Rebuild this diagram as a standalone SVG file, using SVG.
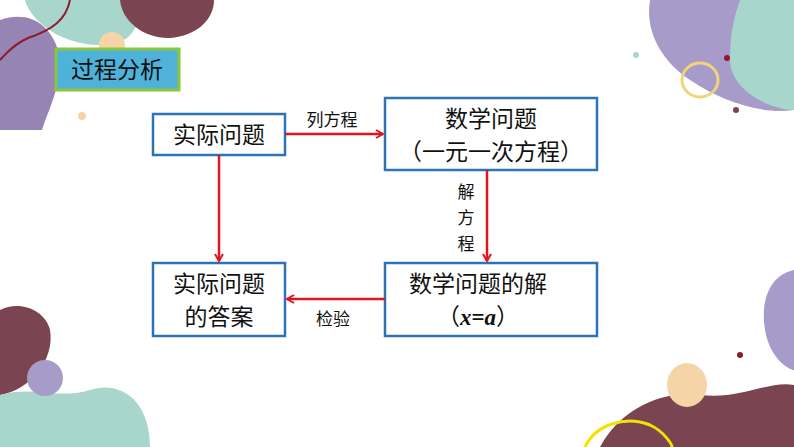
<svg xmlns="http://www.w3.org/2000/svg" width="794" height="447" viewBox="0 0 794 447">
<style>
.box{fill:#fff;stroke:#2e74b5;stroke-width:2.5}
.t{font-family:"Noto Sans CJK SC","Liberation Sans",sans-serif;font-size:23px;fill:#111}
.s{font-family:"Noto Sans CJK SC","Liberation Sans",sans-serif;font-size:17px;fill:#111}
.c{stroke:#e0161e;stroke-width:2.5;fill:none;marker-end:url(#ah)}
</style>
<defs><marker id="ah" markerWidth="10" markerHeight="10" refX="8" refY="5" orient="auto" markerUnits="userSpaceOnUse"><path d="M1,1 L8,5 L1,9" fill="none" stroke="#e0161e" stroke-width="2"/></marker></defs>
<rect width="794" height="447" fill="#fff"/>
<g id="decor">
<path d="M25,0 L140,0 C140,30 130,45 100,45 C60,45 30,20 25,0Z" fill="#a8d5cc"/>
<path d="M0,20 C30,10 50,25 58,50 C65,80 48,110 42,130 L0,130Z" fill="#9584b4"/>
<circle cx="112" cy="45" r="13" fill="#f5d4a8"/>
<path d="M120,0 L214,0 C214,20 196,36 170,38 C145,39 122,22 120,0Z" fill="#7a4450"/>
<path d="M70,0 C66,20 52,30 28,38 C12,45 5,55 0,60" fill="none" stroke="#8e1a2e" stroke-width="2"/>
<circle cx="82" cy="116" r="4" fill="#f5d4a8"/>
<path d="M650,0 L794,0 L794,110 C760,115 720,100 690,80 C660,60 645,30 650,0Z" fill="#a79bc9"/>
<path d="M740,0 L794,0 L794,110 C770,110 730,90 730,60 C730,30 735,15 740,0Z" fill="#a8d5cc"/>
<ellipse cx="700" cy="80" rx="18" ry="17" fill="none" stroke="#f1d37a" stroke-width="3"/>
<circle cx="727" cy="58" r="3" fill="#8e1a2e"/>
<circle cx="636" cy="55" r="3" fill="#a8d5cc"/>
<circle cx="736" cy="110" r="3" fill="#7a4450"/>
<path d="M0,310 C20,300 45,310 50,330 C55,360 30,390 0,395Z" fill="#7a4450"/>
<path d="M0,395 C30,385 60,400 90,390 C120,380 150,400 150,447 L0,447Z" fill="#a8d5cc"/>
<circle cx="45" cy="378" r="18" fill="#a79bc9"/>
<path d="M794,270 C770,275 760,300 765,330 C770,360 790,370 794,370Z" fill="#a79bc9"/>
<path d="M600,447 C620,410 660,390 700,395 C740,400 770,380 794,385 L794,447Z" fill="#7a4450"/>
<ellipse cx="687" cy="385" rx="20" ry="22" fill="#f5d4a8"/>
<path d="M585,447 C595,425 625,415 650,425 C665,432 672,445 672,447" fill="none" stroke="#f2e400" stroke-width="3"/>
<circle cx="740" cy="355" r="3" fill="#8e1a2e"/>
</g>
<g id="title"><rect x="56" y="49" width="123" height="41" fill="#4fb3d9" stroke="#8cc63f" stroke-width="3"/><text class="t" x="117" y="78" text-anchor="middle">过程分析</text></g>
<g id="n1"><rect class="box" x="153" y="114" width="132" height="41"/><text class="t" x="219" y="143" text-anchor="middle">实际问题</text></g>
<g id="n2"><rect class="box" x="385" y="98" width="212" height="72"/><text class="t" x="491" y="127" text-anchor="middle">数学问题</text><text class="t" x="491" y="160" text-anchor="middle">（一元一次方程）</text></g>
<g id="n3"><rect class="box" x="153" y="263" width="132" height="73"/><text class="t" x="219" y="292" text-anchor="middle">实际问题</text><text class="t" x="219" y="325" text-anchor="middle">的答案</text></g>
<g id="n4"><rect class="box" x="385" y="263" width="212" height="73"/><text class="t" x="478" y="292" text-anchor="middle">数学问题的解</text><text class="t" x="478" y="325" text-anchor="middle">（<tspan font-family="Liberation Serif" font-style="italic" font-weight="bold">x</tspan><tspan font-family="Liberation Serif" font-weight="bold">=</tspan><tspan font-family="Liberation Serif" font-style="italic" font-weight="bold">a</tspan>）</text></g>
<g id="connectors">
<line class="c" x1="285" y1="134" x2="383" y2="134"/>
<line class="c" x1="219" y1="155" x2="219" y2="261"/>
<line class="c" x1="487" y1="170" x2="487" y2="261"/>
<line class="c" x1="385" y1="299" x2="287" y2="299"/>
<text class="s" x="332" y="126" text-anchor="middle">列方程</text>
<text class="s" x="466" y="198" text-anchor="middle">解</text>
<text class="s" x="466" y="224" text-anchor="middle">方</text>
<text class="s" x="466" y="250" text-anchor="middle">程</text>
<text class="s" x="333" y="325" text-anchor="middle">检验</text>
</g>
</svg>
